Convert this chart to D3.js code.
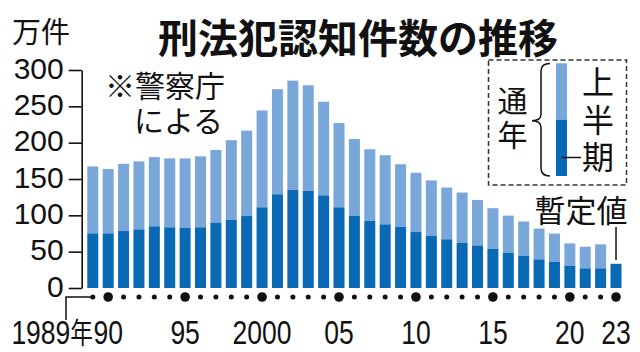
<!DOCTYPE html>
<html><head><meta charset="utf-8">
<script src="https://cdn.jsdelivr.net/npm/d3@7"></script>
<style>
html,body{margin:0;padding:0;background:#fff;}
svg{display:block;}
</style></head>
<body>
<svg id="chart" width="640" height="352"></svg>
<script>
// ---- data (万件) ----
const years = d3.range(1989, 2024);
const totalValues = [167.3,163.7,170.8,174.2,180.1,178.4,178.3,181.2,190.0,203.4,
  216.6,244.3,273.6,285.4,279.0,256.3,227.0,205.1,190.9,182.7,
  170.3,158.6,148.0,138.2,131.4,121.2,109.9,99.6,91.5,81.7,
  74.9,61.4,56.8,60.1,null];
const halfValues = [75.2,75.2,78.4,80.7,84.9,83.5,82.6,83.5,89.9,93.6,
  99.0,111.0,129.0,134.9,133.5,127.5,111.0,99.5,92.2,87.6,
  84.0,77.0,72.0,67.0,62.0,58.5,53.7,48.6,44.5,39.4,
  36.2,30.3,27.0,27.0,33.3];
const yTicks = [0,50,100,150,200,250,300];
const labelYears = [1990,1995,2000,2005,2010,2015,2020,2023];
const labelTexts = ["90","95","2000","05","10","15","20","23"];

const LIGHT = "#7aa7da", DARK = "#0a69b4";
const JP = "'Noto Sans CJK JP', sans-serif";
const NUM = "'Liberation Sans', Arial, sans-serif";

const svg = d3.select("#chart");

const x = d3.scaleBand().domain(years).range([82.9, 625.9]).paddingInner(0.285).paddingOuter(0.285);
const y = d3.scaleLinear().domain([0, 300]).range([288, 70]);
const bw = x.bandwidth();

// bars
const g = svg.append("g");
g.selectAll("rect.total").data(years.filter((d,i)=>totalValues[i]!=null)).join("rect")
  .attr("x", d => x(d)).attr("width", bw)
  .attr("y", d => y(totalValues[years.indexOf(d)]))
  .attr("height", d => y(halfValues[years.indexOf(d)]) - y(totalValues[years.indexOf(d)]))
  .attr("fill", LIGHT);
g.selectAll("rect.half").data(years).join("rect")
  .attr("x", d => x(d)).attr("width", bw)
  .attr("y", (d,i) => y(halfValues[i]))
  .attr("height", (d,i) => y(0) - y(halfValues[i]))
  .attr("fill", DARK);

// y axis
const yAxis = svg.append("g").attr("transform", "translate(81.7,0)")
  .call(d3.axisLeft(y).tickValues(yTicks).tickSize(13).tickPadding(5).tickSizeOuter(0));
yAxis.select(".domain").attr("stroke", "#111").attr("stroke-width", 1.6);
yAxis.selectAll(".tick line").attr("stroke", "#111").attr("stroke-width", 1.6);
yAxis.selectAll(".tick text").attr("font-family", NUM).attr("font-size", 30)
  .attr("fill", "#111").attr("dy", null).attr("y", 8).attr("x", -18);

// x dots
const dotY = 297;
svg.append("path")
  .attr("d", `M${x(1989)+bw/2},${dotY}H66V320`)
  .attr("fill", "none").attr("stroke", "#111").attr("stroke-width", 1.5);
svg.selectAll("circle.dot").data(years).join("circle")
  .attr("cx", d => x(d) + bw/2).attr("cy", dotY)
  .attr("r", d => labelYears.includes(d) ? 4.8 : 2.5)
  .attr("fill", "#111");

// x labels
svg.selectAll("text.xl").data(labelYears).join("text")
  .attr("transform", d => `translate(${x(d)+bw/2},344) scale(0.78,1)`)
  .attr("text-anchor", "middle").attr("font-family", NUM).attr("font-size", 34)
  .attr("fill", "#111").text((d,i) => labelTexts[i]);
const t89 = svg.append("text").attr("transform", "translate(93,344) scale(0.78,1)")
  .attr("text-anchor", "end").attr("font-family", NUM).attr("font-size", 34).attr("fill", "#111");
t89.append("tspan").text("1989");
t89.append("tspan").attr("font-family", JP).attr("font-size", 29).text("年");

// titles
svg.append("text").attr("x", 12).attr("y", 30).attr("dominant-baseline", "central")
  .attr("font-family", JP).attr("font-size", 29).attr("fill", "#111").text("万件");
svg.append("text").attr("x", 358).attr("y", 36).attr("dominant-baseline", "central")
  .attr("text-anchor", "middle").attr("font-family", JP).attr("font-weight", 700)
  .attr("font-size", 40).attr("fill", "#111").text("刑法犯認知件数の推移");

// source note (two lines)
const note = svg.append("text").attr("dominant-baseline", "central")
  .attr("font-family", JP).attr("font-size", 30).attr("fill", "#111");
note.append("tspan").attr("x", 105).attr("y", 84).text("※警察庁");
note.append("tspan").attr("x", 134).attr("y", 119).text("による");

// provisional note
svg.append("text").attr("x", 581).attr("y", 208).attr("dominant-baseline", "central")
  .attr("text-anchor", "middle").attr("font-family", JP).attr("font-size", 31).attr("fill", "#111").text("暫定値");
svg.append("line").attr("x1", x(2023)+bw/2).attr("x2", x(2023)+bw/2).attr("y1", 227).attr("y2", 260)
  .attr("stroke", "#111").attr("stroke-width", 1.5);

// legend
const lg = svg.append("g");
lg.append("rect").attr("x", 488.5).attr("y", 60).attr("width", 138).attr("height", 125)
  .attr("fill", "none").attr("stroke", "#333").attr("stroke-width", 1.5).attr("stroke-dasharray", "5,3");
const ly = d3.scaleLinear().domain([0, 2]).range([176, 63.3]);
lg.append("rect").attr("x", 556).attr("width", 11).attr("y", ly(2)).attr("height", ly(1)-ly(2)).attr("fill", LIGHT);
lg.append("rect").attr("x", 556).attr("width", 11).attr("y", ly(1)).attr("height", ly(0)-ly(1)).attr("fill", DARK);
lg.append("line").attr("x1", 561.5).attr("x2", 581).attr("y1", 157.5).attr("y2", 157.5)
  .attr("stroke", "#111").attr("stroke-width", 1.5);
lg.append("path")
  .attr("d", "M550,63.5Q541,63.5 541,71V114Q541,120.7 532,120.7Q541,120.7 541,127.5V168Q541,176 550,176")
  .attr("fill", "none").attr("stroke", "#111").attr("stroke-width", 1.5);
lg.append("text").attr("x", 512.5).attr("y", 120)
  .attr("writing-mode", "vertical-rl").attr("text-anchor", "middle")
  .attr("letter-spacing", 4)
  .attr("font-family", JP).attr("font-size", 30).attr("fill", "#111").text("通年");
lg.append("text").attr("x", 598).attr("y", 122.5)
  .attr("writing-mode", "vertical-rl").attr("text-anchor", "middle")
  .attr("letter-spacing", 5.5)
  .attr("font-family", JP).attr("font-size", 32).attr("fill", "#111").text("上半期");
</script>
</body></html>
